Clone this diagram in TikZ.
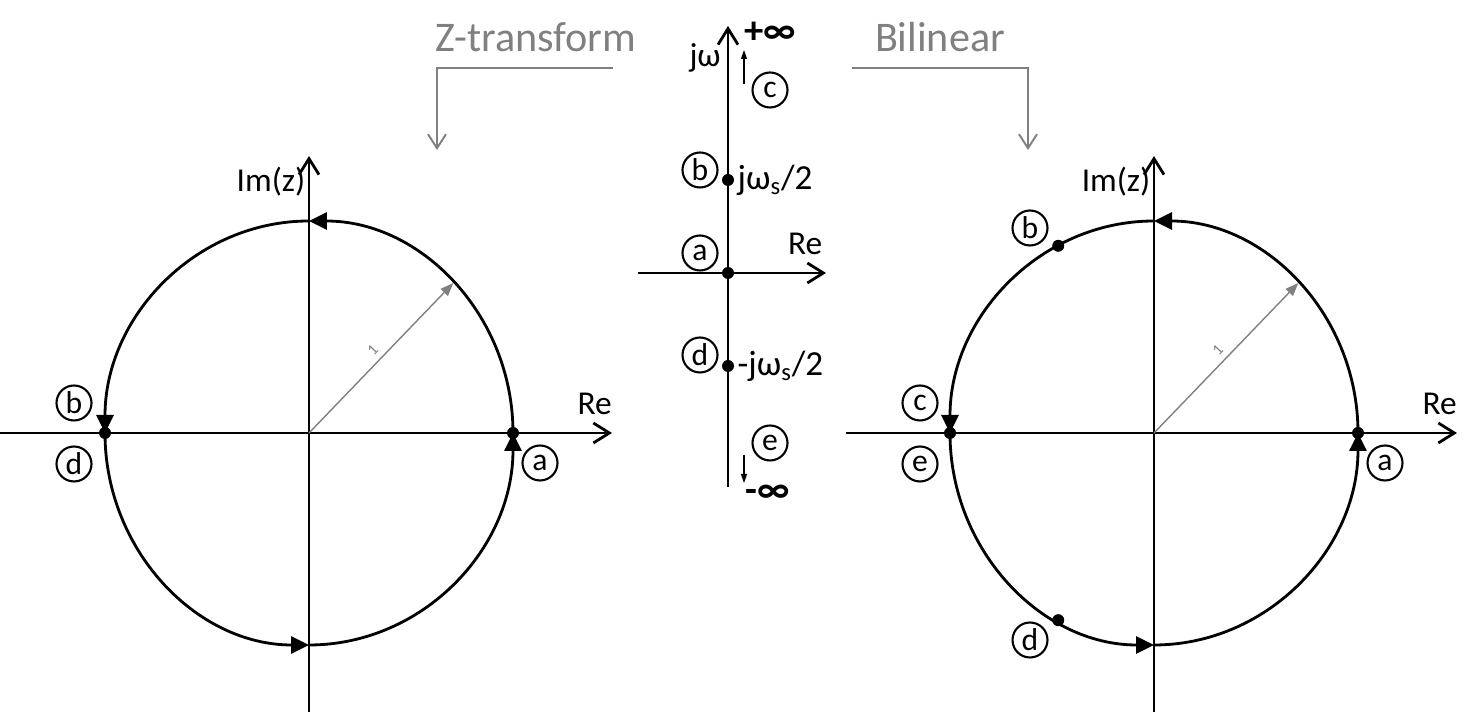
\documentclass[tikz,border=0pt]{standalone}
\usepackage{fontspec}
\setmainfont{Carlito}
\usetikzlibrary{arrows.meta,calc,positioning}
\tikzset{
    axis/.style={line width=1.6pt,-{Straight Barb[length=0.32cm,width=0.4cm,line width=1.6pt]}},
    flow/.style={line width=1.6pt,-{Triangle[length=0.36cm,width=0.34cm]}},
    radial/.style={gray,line width=0.8pt,-{Triangle[length=0.26cm,width=0.2cm]}},
    guide/.style={gray,line width=1.1pt,-{Straight Barb[length=0.28cm,width=0.36cm,line width=1.1pt]}},
    ptlabel/.style={shape=circle,draw,line width=1.2pt,minimum size=0.7cm,inner sep=0pt,font=\fontsize{18}{18}\selectfont},
    lab/.style={font=\fontsize{19}{19}\selectfont},
    title/.style={gray,font=\fontsize{24}{24}\selectfont},
    inf/.style={font=\bfseries\fontsize{22}{22}\selectfont},
    small/.style={line width=0.7pt,-{Triangle[length=0.18cm,width=0.12cm]}}
}
\begin{document}
\begin{tikzpicture}[x=0.02cm,y=0.02cm]
\useasboundingbox (0,0) rectangle (1478,712);

%%% LEFT PLANE (Z-TRANSFORM) %%%
\coordinate (LO) at (309,279); % centre
\coordinate (LW) at (0,279);
\coordinate (LE) at (612,279);
\coordinate (LS) at (309,0);
\coordinate (LN) at (309,556);
\draw[axis] (LW) -- (LE) node[lab,pos=1,above left=6pt and -4pt] {Re}; % x-axis
\draw[axis] (LS) -- (LN) node[lab,pos=1,below left=2pt and -2pt] {Im(z)}; % y-axis
\draw[flow] ($(LO)+(0:204 and 212)$) arc [start angle=0, end angle=90, x radius=204, y radius=212];
\draw[flow] ($(LO)+(90:204 and 212)$) arc [start angle=90, end angle=180, x radius=204, y radius=212];
\draw[flow] ($(LO)+(180:204 and 212)$) arc [start angle=180, end angle=270, x radius=204, y radius=212];
\draw[flow] ($(LO)+(270:204 and 212)$) arc [start angle=270, end angle=360, x radius=204, y radius=212];
\coordinate (LR) at ($(LO)+(45:204 and 212)$);
\draw[radial] (LO) -- (LR) node[midway,above,sloped,font=\fontsize{9}{9}\selectfont] {1}; % unit radius
\node[ptlabel] (Lb) at (74,309) {b};
\node[ptlabel] (Ld) at (74,248) {d};
\node[ptlabel] (La) at (540,249) {a};
\fill ($(LO)+(180:204 and 212)$) circle [radius=6];
\fill ($(LO)+(0:204 and 212)$) circle [radius=6];

%%% MIDDLE PLANE (S) %%%
\coordinate (MO) at (728,439); % origin
\coordinate (MW) at (638,439);
\coordinate (ME) at (826,439);
\coordinate (MS) at (728,225);
\coordinate (MN) at (728,686);
\draw[axis] (MW) -- (ME) node[lab,pos=1,above left=6pt and -2pt] {Re};
\draw[axis] (MS) -- (MN) node[lab,pos=1,below left=6pt and 0pt] {jω};
\coordinate (Mb) at (728,532);
\coordinate (Md) at (728,346);
\fill (MO) circle [radius=6];
\fill (Mb) circle [radius=6];
\fill (Md) circle [radius=6];
\node[lab,right=2pt,font=\fontsize{20}{20}\selectfont] at (Mb) {jω\textsubscript{s}/2};
\node[lab,right=2pt,font=\fontsize{20}{20}\selectfont] at (Md) {-jω\textsubscript{s}/2};
\node[inf] (pinf) at (770,679) {+∞};
\node[inf] (minf) at (768,218) {-∞};
\node[ptlabel] (Mc) at (770,622) {c};
\node[ptlabel] (Mbt) at (700,542) {b};
\node[ptlabel] (Mat) at (700,459) {a};
\node[ptlabel] (Mdt) at (700,357) {d};
\node[ptlabel] (Me) at (770,269) {e};
\coordinate (up0) at (744,628);
\coordinate (up1) at (744,662);
\coordinate (dn0) at (744,257);
\coordinate (dn1) at (744,229);
\draw[small] (up0) -- (up1); % towards +inf
\draw[small] (dn0) -- (dn1); % towards -inf

%%% MAPPING LABELS %%%
\node[title] (zt) at (536,675) {Z-transform};
\node[title] (bl) at (940,675) {Bilinear};
\coordinate (zt0) at (613,644);
\coordinate (zt1) at (437,644);
\coordinate (zt2) at (437,562);
\coordinate (bl0) at (852,644);
\coordinate (bl1) at (1028,644);
\coordinate (bl2) at (1028,562);
\draw[guide] (zt0) -- (zt1) -- (zt2);
\draw[guide] (bl0) -- (bl1) -- (bl2);

%%% RIGHT PLANE (BILINEAR) %%%
\coordinate (RO) at (1154,279); % centre
\coordinate (RW) at (846,279);
\coordinate (RE) at (1457,279);
\coordinate (RS) at (1154,0);
\coordinate (RN) at (1154,556);
\draw[axis] (RW) -- (RE) node[lab,pos=1,above left=6pt and -4pt] {Re};
\draw[axis] (RS) -- (RN) node[lab,pos=1,below left=2pt and -2pt] {Im(z)};
\draw[flow] ($(RO)+(0:204 and 212)$) arc [start angle=0, end angle=90, x radius=204, y radius=212];
\draw[flow] ($(RO)+(90:204 and 212)$) arc [start angle=90, end angle=180, x radius=204, y radius=212];
\draw[flow] ($(RO)+(180:204 and 212)$) arc [start angle=180, end angle=270, x radius=204, y radius=212];
\draw[flow] ($(RO)+(270:204 and 212)$) arc [start angle=270, end angle=360, x radius=204, y radius=212];
\coordinate (RR) at ($(RO)+(45:204 and 212)$);
\draw[radial] (RO) -- (RR) node[midway,above,sloped,font=\fontsize{9}{9}\selectfont] {1};
\node[ptlabel] (Rb) at (1030,484) {b};
\node[ptlabel] (Rc) at (920,309) {c};
\node[ptlabel] (Re) at (920,248) {e};
\node[ptlabel] (Ra) at (1385,249) {a};
\node[ptlabel] (Rd) at (1030,72) {d};
\fill ($(RO)+(180:204 and 212)$) circle [radius=6];
\fill ($(RO)+(0:204 and 212)$) circle [radius=6];
\fill ($(RO)+(118:204 and 212)$) circle [radius=6];
\fill ($(RO)+(242:204 and 212)$) circle [radius=6];
\end{tikzpicture}
\end{document}
